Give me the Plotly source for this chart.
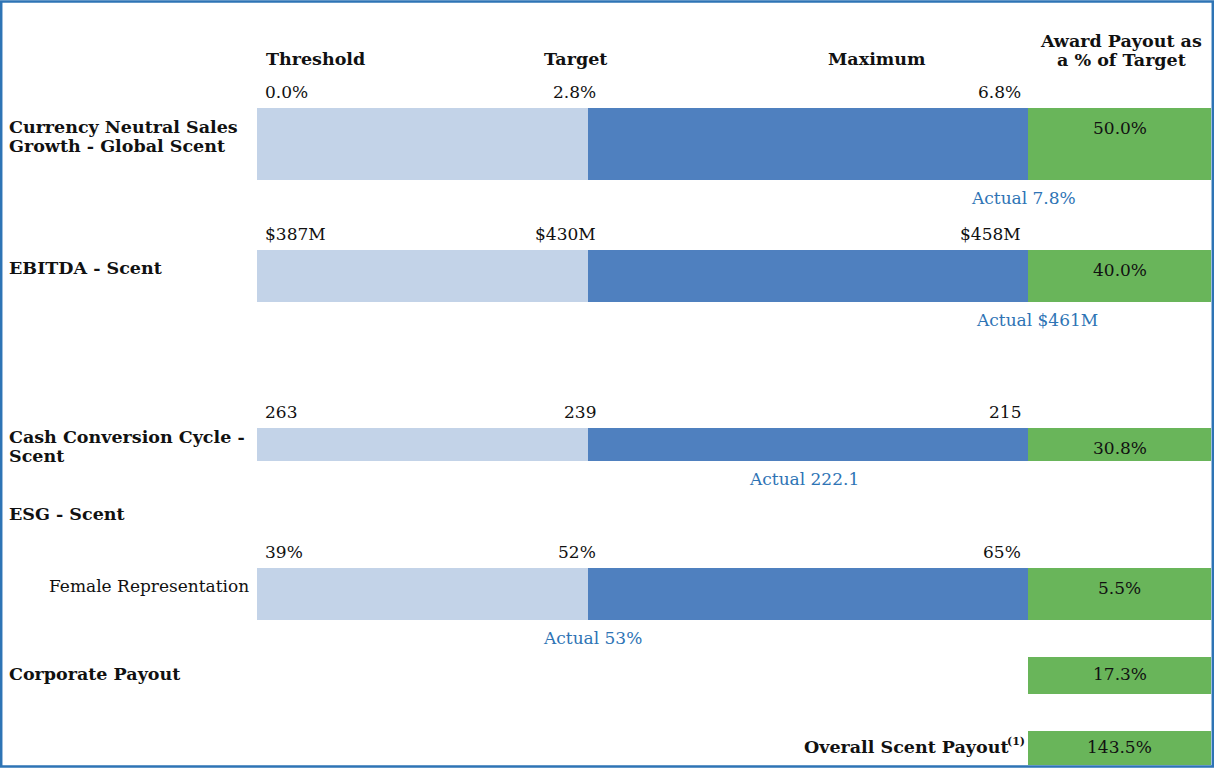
import plotly.graph_objects as go

# ---------------- data ----------------
metrics = ["Currency Neutral Sales<br>Growth - Global Scent", "EBITDA - Scent",
           "Cash Conversion Cycle -<br>Scent", "Female Representation"]
threshold_lbl = ["0.0%", "$387M", "263", "39%"]
target_lbl = ["2.8%", "$430M", "239", "52%"]
maximum_lbl = ["6.8%", "$458M", "215", "65%"]
actual_lbl = ["Actual 7.8%", "Actual $461M", "Actual 222.1", "Actual 53%"]
# position of the actual label on a 0 (threshold) .. 1 (target) .. 2 (maximum) scale
actual_pos = [1.99, 2.02, 1.49, 1.01]
payout_lbl = ["50.0%", "40.0%", "30.8%", "5.5%"]
corporate_payout = "17.3%"
overall_payout = "143.5%"
headers = ["Threshold", "Target", "Maximum", "Award Payout as<br>a % of Target"]

# ---------------- layout constants (pixel space) ----------------
W, H = 1214, 768
X_THR, X_TGT, X_MAX, X_END = 257, 588, 1028, 1211
row_top = [108, 250, 428, 568]
row_bot = [180, 302, 461, 620]
metric_y = [127, 268, 437, 586]
corp_top, corp_bot = 657, 694
over_top, over_bot = 731, 765

LIGHT = "#C3D3E8"
DARK = "#4F80BF"
GREEN = "#69B55A"
BLUE_TXT = "#2E74B5"
FONT = "DejaVu Serif"
FS = 17
FSB = 17.5
LINE = 19

def seg_x(p):
    if p <= 1:
        return X_THR + p * (X_TGT - X_THR)
    return X_TGT + (p - 1) * (X_MAX - X_TGT)

fig = go.Figure()
for i in range(len(metrics)):
    yc = (row_top[i] + row_bot[i]) / 2
    th = row_bot[i] - row_top[i]
    for base, end, col in [(X_THR, X_TGT, LIGHT), (X_TGT, X_MAX, DARK), (X_MAX, X_END, GREEN)]:
        fig.add_trace(go.Bar(orientation="h", y=[yc], x=[end - base], base=[base], width=[th],
                             marker=dict(color=col, line=dict(width=0)), hoverinfo="skip",
                             showlegend=False))
for top, bot in [(corp_top, corp_bot), (over_top, over_bot)]:
    fig.add_trace(go.Bar(orientation="h", y=[(top + bot) / 2], x=[X_END - X_MAX], base=[X_MAX],
                         width=[bot - top], marker=dict(color=GREEN, line=dict(width=0)),
                         hoverinfo="skip", showlegend=False))

ann = []
def A(x, y, text, xanchor="center", bold=False, color="#111111", size=None):
    for k, line in enumerate(text.split("<br>")):
        t = "<b>" + line + "</b>" if bold else line
        ann.append(dict(x=x, y=y + k * LINE, xref="x", yref="y", text=t, showarrow=False,
                        xanchor=xanchor, yanchor="middle",
                        font=dict(family=FONT, size=size or (FSB if bold else FS), color=color)))

# headers
A(264, 59, headers[0], "left", bold=True)
A(575, 59, headers[1], "center", bold=True)
A(877, 59, headers[2], "center", bold=True)
A(1121, 41, headers[3], "center", bold=True)

for i in range(len(metrics)):
    ly = row_top[i] - 16
    A(263, ly, threshold_lbl[i], "left")
    A(598, ly, target_lbl[i], "right")
    A(1023, ly, maximum_lbl[i], "right")
    A((X_MAX + X_END) / 2, row_top[i] + 20, payout_lbl[i], "center")
    A(seg_x(actual_pos[i]), row_bot[i] + 18, actual_lbl[i], "center", color=BLUE_TXT)
    if i < 3:
        A(7, metric_y[i], metrics[i], "left", bold=True)
    else:
        A(251, metric_y[i], metrics[i], "right")

A(7, 514, "ESG - Scent", "left", bold=True)
A(7, 674, "Corporate Payout", "left", bold=True)
A((X_MAX + X_END) / 2, corp_top + 17, corporate_payout, "center")
A(1011, 747, "Overall Scent Payout", "right", bold=True)
A(1005, 741, "(1)", "left", bold=True, size=11)
A((X_MAX + X_END) / 2, over_top + 16, overall_payout, "center")

fig.update_layout(
    width=W, height=H, margin=dict(l=0, r=0, t=0, b=0),
    paper_bgcolor="white", plot_bgcolor="white", barmode="overlay",
    xaxis=dict(range=[0, W], visible=False, fixedrange=True),
    yaxis=dict(range=[H, 0], visible=False, fixedrange=True),
    annotations=ann,
    shapes=[dict(type="rect", xref="paper", yref="paper", x0=0.001, x1=0.999, y0=0.002, y1=0.998,
                 line=dict(color="#2E74B5", width=2.5))],
)
fig.write_html("out.html", config={"displayModeBar": False},
               post_script="document.body.style.margin='0';document.body.style.overflow='hidden';")
